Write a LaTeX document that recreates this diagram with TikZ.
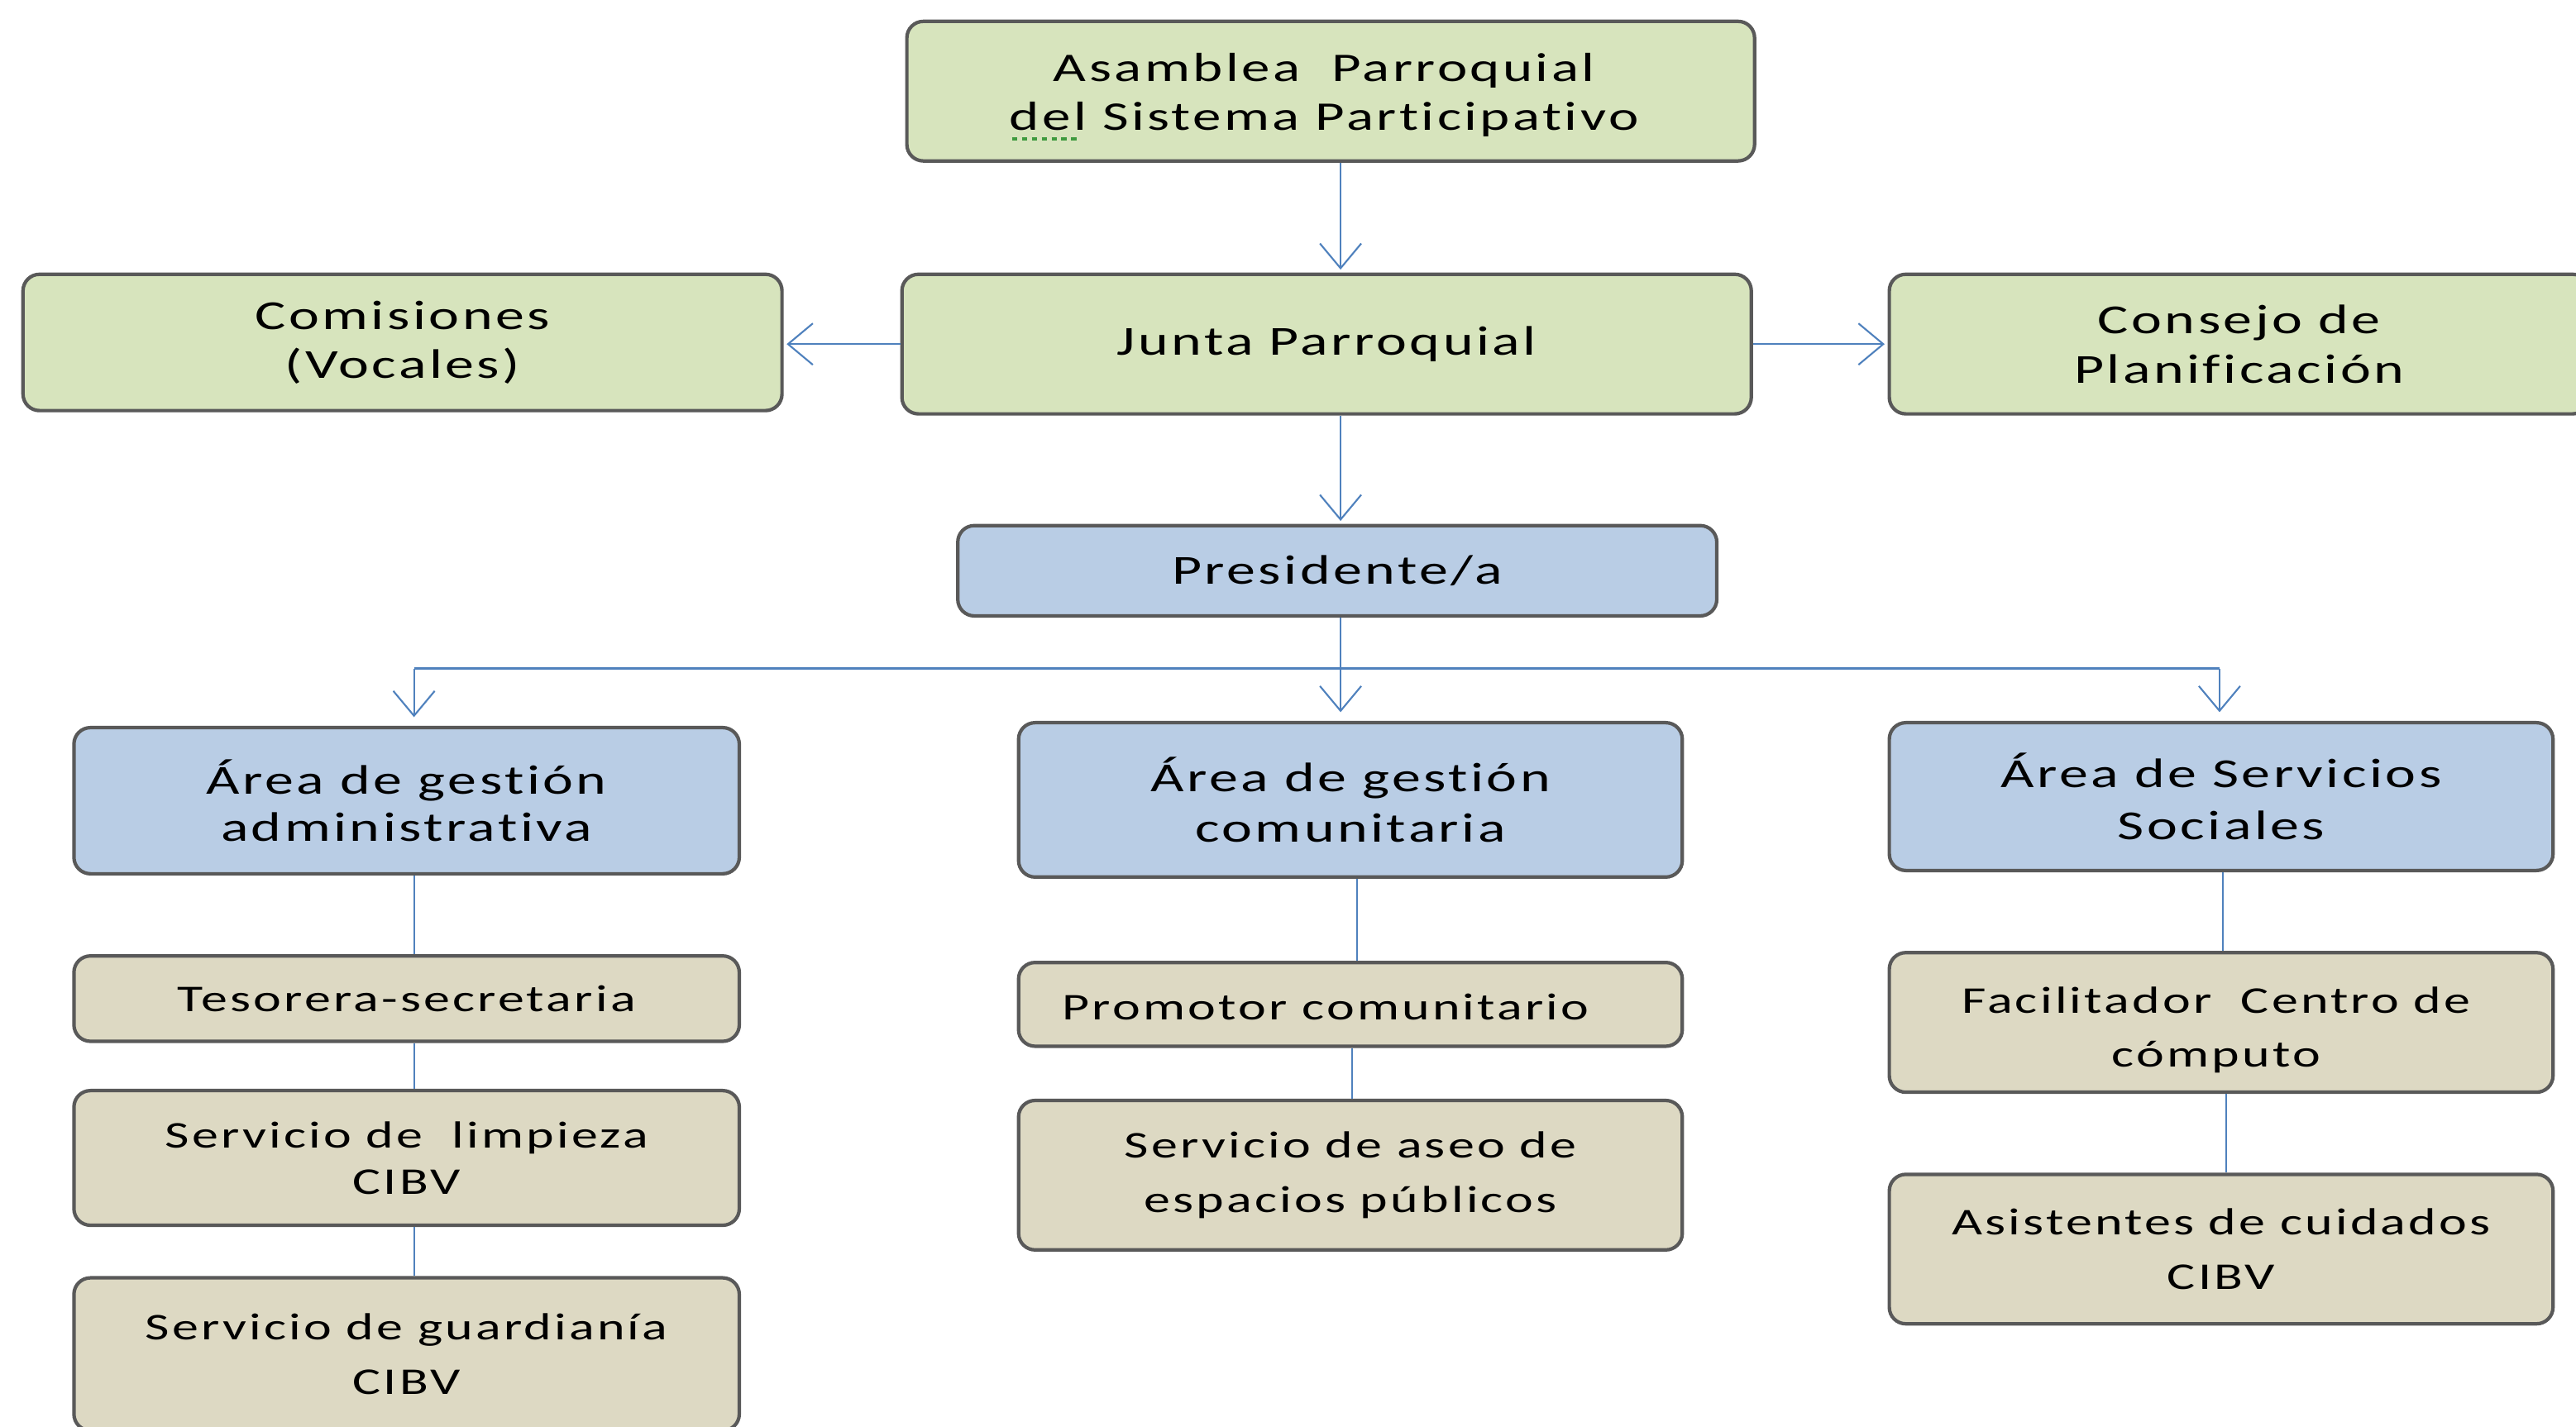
\documentclass[tikz,border=0pt]{standalone}
\usepackage{fontspec}
\setmainfont{Carlito}[FakeStretch=1.4,LetterSpace=7,Ligatures=NoCommon]
\usetikzlibrary{arrows.meta}
\definecolor{gfill}{HTML}{D7E4BD}
\definecolor{bfill}{HTML}{B9CDE5}
\definecolor{tfill}{HTML}{DDD9C3}
\definecolor{edgegray}{HTML}{595959}
\definecolor{lblue}{HTML}{4F81BD}
\definecolor{spellgreen}{HTML}{3E9A3E}
\newcommand\pxu{0.0198657cm}
\newcommand\spellmark[1]{\setbox0\hbox{#1}\rlap{\raisebox{-3.6pt}{\color{spellgreen}\hbox to\wd0{\leaders\hbox to 3.4pt{\hss\rule{1.8pt}{1.2pt}\hss}\hfill}}}#1}
\begin{document}
\begin{tikzpicture}[x=0.0198657cm,y=-0.0198657cm,
  box/.style={draw=edgegray, line width=1.2pt, rounded corners=0.2cm, inner sep=0pt, align=center, text=black, font=\fontsize{14.2}{17}\selectfont},
  gbox/.style={box, fill=gfill},
  bbox/.style={box, fill=bfill},
  tbox/.style={box, fill=tfill, font=\fontsize{13}{18.6}\selectfont},
  txt/.style={inner sep=0pt, align=center, text=black},
  arr/.style={draw=lblue, line width=0.6pt, -{Straight Barb[length=3mm,width=5mm,line width=0.6pt]}, shorten >=1pt},
  conn/.style={draw=lblue, line width=0.6pt},
  barline/.style={draw=lblue, line width=1.1pt}
]
\useasboundingbox (0,0) rectangle (1568,868.8);
\clip (0,0) rectangle (1568,868.8);

% top level
\node[gbox, minimum width=516*\pxu, minimum height=85*\pxu] (asam) at (810,55.5) {};
\node[txt, font=\fontsize{14}{17}\selectfont] (asamt) at (806,59) {Asamblea\ \ Parroquial\\\spellmark{del} Sistema Participativo};
\node[gbox, minimum width=462*\pxu, minimum height=83*\pxu] (comis) at (245,208.5) {Comisiones\\(Vocales)};
\node[gbox, minimum width=517*\pxu, minimum height=85*\pxu] (junta) at (807.5,209.5) {Junta Parroquial};
\node[gbox, minimum width=426*\pxu, minimum height=85*\pxu] (consejo) at (1363,209.5) {Consejo de\\Planificación};
\node[bbox, minimum width=462*\pxu, minimum height=55*\pxu] (pres) at (814,347.5) {Presidente/a};

% areas
\node[bbox, minimum width=405*\pxu, minimum height=89*\pxu, font=\fontsize{14.2}{16.4}\selectfont] (aadm) at (247.5,487.5) {Área de gestión\\administrativa};
\node[bbox, minimum width=404*\pxu, minimum height=94*\pxu, font=\fontsize{14.2}{17.4}\selectfont] (acom) at (822,487) {Área de gestión\\comunitaria};
\node[bbox, minimum width=404*\pxu, minimum height=90*\pxu, font=\fontsize{14.2}{18}\selectfont] (aserv) at (1352,485) {Área de Servicios\\Sociales};

% sub boxes
\node[tbox, minimum width=405*\pxu, minimum height=52*\pxu] (teso) at (247.5,608) {Tesorera-secretaria};
\node[tbox, minimum width=405*\pxu, minimum height=82*\pxu, font=\fontsize{13}{15.8}\selectfont] (limp) at (247.5,705) {Servicio de\ \ limpieza\\CIBV};
\node[tbox, minimum width=405*\pxu, minimum height=93*\pxu] (guard) at (247.5,824.5) {Servicio de guardianía\\CIBV};
\node[tbox, minimum width=404*\pxu, minimum height=51*\pxu] (prom) at (822,611.5) {};
\node[txt, font=\fontsize{13}{18.6}\selectfont] (promt) at (807,613) {Promotor comunitario};
\node[tbox, minimum width=404*\pxu, minimum height=91*\pxu] (aseo) at (822,715.5) {Servicio de aseo de\\espacios públicos};
\node[tbox, minimum width=404*\pxu, minimum height=85*\pxu] (facil) at (1352,622.5) {};
\node[txt, font=\fontsize{13}{18.6}\selectfont] (facilt) at (1349,627) {Facilitador\ \ Centro de\\cómputo};
\node[tbox, minimum width=404*\pxu, minimum height=91*\pxu] (asist) at (1352,760.5) {Asistentes de cuidados\\CIBV};

% helper coordinates
\coordinate (cx) at (816,0);
\coordinate (barL) at (252,407);
\coordinate (barR) at (1351,407);

% connectors
\draw[arr] (asam.south -| cx) -- (junta.north -| cx);
\draw[arr] (junta.west) -- (comis.east |- junta.west);
\draw[arr] (junta.east) -- (consejo.west |- junta.east);
\draw[arr] (junta.south -| cx) -- (pres.north -| cx);
\draw[arr] (pres.south -| cx) -- ([yshift=2pt]acom.north -| cx);
\draw[barline] (barL) -- (barR);
\draw[arr] (barL) -- ([yshift=2pt]aadm.north -| barL);
\draw[arr] (barR) -- ([yshift=2pt]aserv.north -| barR);

\coordinate (l1) at (252,0);
\draw[conn] (aadm.south -| l1) -- (teso.north -| l1);
\draw[conn] (teso.south -| l1) -- (limp.north -| l1);
\draw[conn] (limp.south -| l1) -- (guard.north -| l1);
\coordinate (m1) at (826,0);
\coordinate (m2) at (823,0);
\draw[conn] (acom.south -| m1) -- (prom.north -| m1);
\draw[conn] (prom.south -| m2) -- (aseo.north -| m2);
\coordinate (r1) at (1353,0);
\coordinate (r2) at (1355,0);
\draw[conn] (aserv.south -| r1) -- (facil.north -| r1);
\draw[conn] (facil.south -| r2) -- (asist.north -| r2);
\end{tikzpicture}
\end{document}
